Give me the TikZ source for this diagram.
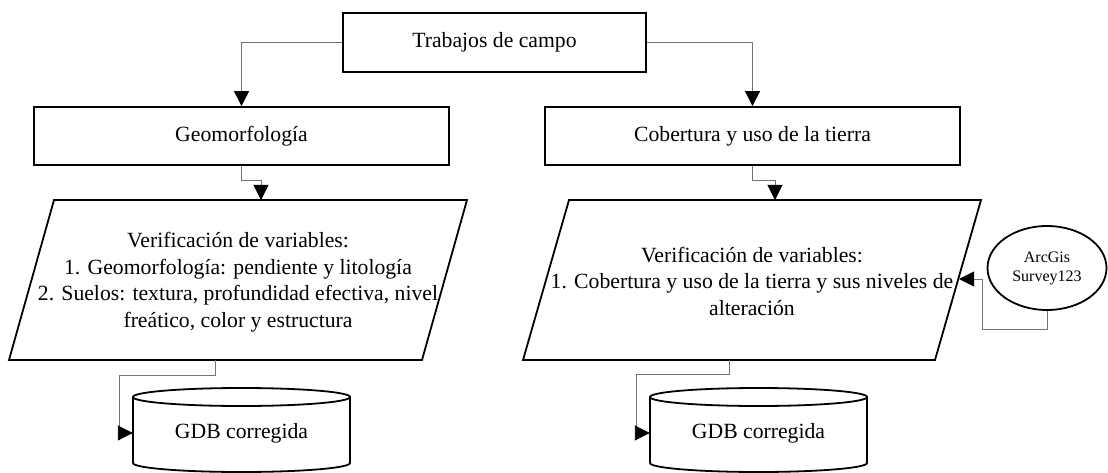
\documentclass[tikz,border=0pt]{standalone}
\usepackage{fontspec}
\setmainfont{Liberation Serif}
\usetikzlibrary{arrows.meta,shapes.geometric}
\definecolor{conngray}{RGB}{115,115,115}
\begin{document}
\begin{tikzpicture}[x=1pt,y=-1pt,
  outline/.style={draw=black, line width=1.8pt, line join=miter},
  box/.style={outline, inner sep=0pt, font=\fontsize{21.7}{26.5}\selectfont},
  txt/.style={font=\fontsize{21.7}{26.5}\selectfont, align=center, inner sep=0pt},
  conn/.style={draw=conngray, line width=0.9pt, -{Triangle[length=15pt,width=15pt,color=black]}}
]
\useasboundingbox (0,0) rectangle (1108,473);

% rectangles
\node[box, minimum width=303pt, minimum height=59pt] (top) at (494.5,42.5) {Trabajos de campo};
\node[box, minimum width=415pt, minimum height=58pt] (geo) at (241.5,136) {Geomorfología};
\node[box, minimum width=415pt, minimum height=58pt] (cob) at (752.5,136) {Cobertura y uso de la tierra};

% parallelograms
\draw[outline] (54,200) -- (467,200) -- (422,360) -- (9,360) -- cycle;
\draw[outline] (569,200) -- (981,200) -- (935,360) -- (523,360) -- cycle;
\node[txt] (verL) at (238,282) {Verificación de variables:\\1. Geomorfología: pendiente y litología\\2. Suelos: textura, profundidad efectiva, nivel\\freático, color y estructura};
\node[txt] (verR) at (752,281) {Verificación de variables:\\1. Cobertura y uso de la tierra y sus niveles de\\alteración};

% cylinders
\draw[outline] (133,397) -- (133,463) arc[start angle=180, end angle=360, x radius=108.5pt, y radius=9pt] -- (350,397);
\draw[outline] (241.5,397) ellipse [x radius=108.5pt, y radius=9pt];
\draw[outline] (650,397) -- (650,463) arc[start angle=180, end angle=360, x radius=108.5pt, y radius=9pt] -- (867,397);
\draw[outline] (758.5,397) ellipse [x radius=108.5pt, y radius=9pt];
\node[txt, minimum width=217pt, minimum height=50pt] (gdbL) at (241.5,433) {GDB corregida};
\node[txt, minimum width=217pt, minimum height=50pt] (gdbR) at (758.5,433) {GDB corregida};

% ellipse
\node[outline, ellipse, minimum width=119pt, minimum height=84pt, inner sep=0pt, align=center,
      font=\fontsize{16}{19}\selectfont] (arc) at (1047,268) {ArcGis\\Survey123};

% connector points
\coordinate (pLin) at (261,200);
\coordinate (pRin) at (775,200);
\coordinate (pLout) at (215,360);
\coordinate (pRout) at (729,360);
\coordinate (bendL) at (119,433);
\coordinate (bendR) at (636,433);
\coordinate (bendA) at (982,279);
\coordinate (pRedge) at (959,279);

% connectors
\draw[conn] (top.west) -| (geo.north);
\draw[conn] (top.east) -| (cob.north);
\draw[conn] (geo.south) -- ++(0,15) -| (pLin);
\draw[conn] (cob.south) -- ++(0,15) -| (pRin);
\draw[conn] (pLout) -- ++(0,15) -| (bendL) -- (gdbL.west);
\draw[conn] (pRout) -- ++(0,14) -| (bendR) -- (gdbR.west);
\draw[conn] (arc.south) -- ++(0,19) -| (bendA) -- (pRedge);
\end{tikzpicture}
\end{document}
